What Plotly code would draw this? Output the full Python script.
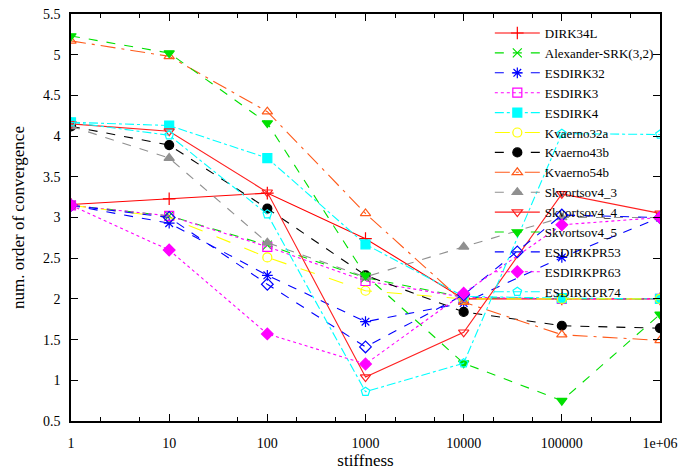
import plotly.graph_objects as go

stiffness = [1, 10, 100, 1000, 10000, 100000, 1000000]
x_tick_text = ["1", "10", "100", "1000", "10000", "100000", "1e+06"]
y_tick_vals = [0.5, 1, 1.5, 2, 2.5, 3, 3.5, 4, 4.5, 5, 5.5]
y_tick_text = ["0.5", "1", "1.5", "2", "2.5", "3", "3.5", "4", "4.5", "5", "5.5"]

names = ["DIRK34L", "Alexander-SRK(3,2)", "ESDIRK32", "ESDIRK3", "ESDIRK4",
         "Kvaerno32a", "Kvaerno43b", "Kvaerno54b", "Skvortsov4_3", "Skvortsov4_4",
         "Skvortsov4_5", "ESDIRKPR53", "ESDIRKPR63", "ESDIRKPR74"]

dirk34l = [3.16, 3.23, 3.30, 2.74, 2.00, 2.00, 2.00]
alexander = [3.15, 3.02, 2.66, 2.26, 2.02, 2.00, 2.00]
esdirk32 = [3.15, 2.93, 2.29, 1.72, 1.95, 2.51, 3.00]
esdirk3 = [3.15, 3.02, 2.64, 2.22, 2.02, 2.00, 2.00]
esdirk4 = [4.17, 4.13, 3.73, 2.67, 2.03, 2.01, 2.00]
kvaerno32a = [3.15, 3.00, 2.51, 2.10, 2.00, 2.00, 2.00]
kvaerno43b = [4.12, 3.89, 3.11, 2.29, 1.84, 1.67, 1.64]
kvaerno54b = [5.17, 4.98, 4.30, 3.05, 1.96, 1.56, 1.49]
skvortsov4_3 = [4.12, 3.73, 2.69, 2.27, 2.64, 3.00, 3.00]
skvortsov4_4 = [4.15, 4.06, 3.31, 1.04, 1.59, 3.29, 3.05]
skvortsov4_5 = [5.23, 5.02, 4.16, 2.29, 1.21, 0.75, 1.81]
esdirkpr53 = [3.15, 3.00, 2.18, 1.41, 2.05, 3.03, 3.00]
esdirkpr63 = [3.15, 2.60, 1.57, 1.20, 2.07, 2.91, 3.00]
esdirkpr74 = [4.17, 4.01, 3.04, 0.86, 1.21, 4.03, 4.02]

series = [dirk34l, alexander, esdirk32, esdirk3, esdirk4, kvaerno32a, kvaerno43b,
          kvaerno54b, skvortsov4_3, skvortsov4_4, skvortsov4_5, esdirkpr53,
          esdirkpr63, esdirkpr74]

colors = ["#ff0000", "#00e000", "#0000ff", "#ff00ff", "#00ffff", "#ffff00", "#000000",
          "#ff5a1a", "#909090", "#ff2020", "#00e000", "#0000ff", "#ff00ff", "#00ffff"]
dashes = ["solid", "dash", "dash", "dot", "dashdot", "longdash", "dash",
          "longdashdot", "dash", "solid", "dash", "dash", "dot", "dashdot"]
symbols = ["cross-thin-open", "x-thin-open", "asterisk-open", "square-open", "square",
           "circle-open", "circle", "triangle-up-open", "triangle-up", "triangle-down-open",
           "triangle-down", "diamond-open", "diamond", "pentagon-open"]

fig = go.Figure()
for name, ys, c, d, s in zip(names, series, colors, dashes, symbols):
    fig.add_trace(go.Scatter(
        x=stiffness, y=ys, name=name, mode="lines+markers",
        line=dict(color=c, width=1.1, dash=d),
        marker=dict(symbol=s, size=9, color=c, line=dict(color=c, width=1.2)),
    ))

font = "Liberation Serif"
fig.update_layout(
    width=683, height=470,
    margin=dict(l=71, r=23, t=14, b=49, autoexpand=False),
    paper_bgcolor="white", plot_bgcolor="white",
    font=dict(family=font, size=14, color="black"),
    showlegend=True,
    legend=dict(x=0.998, y=0.99, xanchor="right", yanchor="top",
                bgcolor="rgba(0,0,0,0)", font=dict(size=13, family=font),
                tracegroupgap=0, itemwidth=45),
)
fig.update_xaxes(
    type="log", range=[0, 6], tickvals=stiffness, ticktext=x_tick_text,
    ticks="inside", ticklen=7, tickwidth=1, tickcolor="black",
    showline=True, linecolor="black", linewidth=1.5, mirror="ticks",
    showgrid=False, zeroline=False, ticklabelstandoff=8, automargin=False,
    minor=dict(ticks="inside", ticklen=4, tickcolor="black", showgrid=False),
    title=dict(text="stiffness", standoff=8),
)
fig.update_yaxes(
    range=[0.5, 5.5], tickvals=y_tick_vals, ticktext=y_tick_text,
    ticks="inside", ticklen=7, tickwidth=1, tickcolor="black",
    showline=True, linecolor="black", linewidth=1.5, mirror="ticks",
    showgrid=False, zeroline=False, ticklabelstandoff=6, automargin=False,
    title=dict(text="num. order of convergence", standoff=14),
)
fig.write_html("out.html")
